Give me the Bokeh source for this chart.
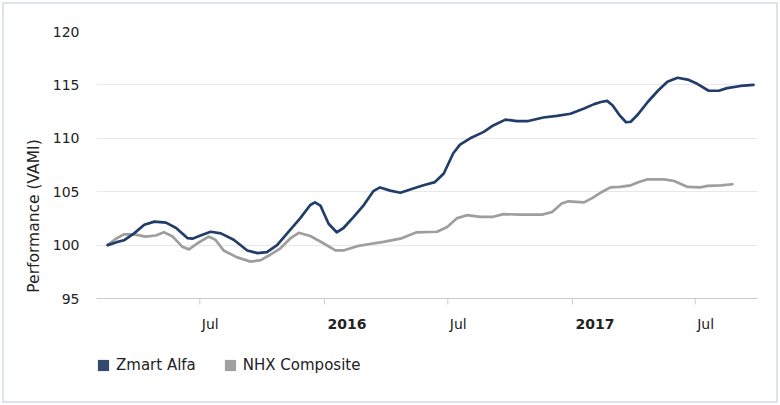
import math
from datetime import datetime
from bokeh.plotting import figure
from bokeh.models import Range1d, FixedTicker, Legend, LegendItem, Span
from bokeh.core.properties import value
from bokeh.embed import file_html
from bokeh.resources import INLINE

# ---------------- data ----------------
zmart_dates = ["2015-02-15", "2015-02-27", "2015-03-11", "2015-03-26", "2015-04-10", "2015-04-25",
               "2015-05-12", "2015-05-27", "2015-06-13", "2015-06-20", "2015-07-02", "2015-07-17",
               "2015-08-01", "2015-08-20", "2015-09-09", "2015-09-24", "2015-10-08", "2015-10-23",
               "2015-11-11", "2015-11-26", "2015-12-11", "2015-12-18", "2015-12-26", "2016-01-07",
               "2016-01-19", "2016-01-29", "2016-02-13", "2016-02-28", "2016-03-13", "2016-03-23",
               "2016-04-07", "2016-04-22", "2016-05-11", "2016-05-26", "2016-06-12", "2016-06-25",
               "2016-07-09", "2016-07-19", "2016-08-03", "2016-08-23", "2016-09-06", "2016-09-24",
               "2016-10-11", "2016-10-26", "2016-11-19", "2016-12-09", "2016-12-29", "2017-01-18",
               "2017-02-02", "2017-02-12", "2017-02-21", "2017-03-01", "2017-03-11", "2017-03-21",
               "2017-03-28", "2017-04-07", "2017-04-22", "2017-05-07", "2017-05-21", "2017-06-05",
               "2017-06-20", "2017-07-04", "2017-07-21", "2017-08-05", "2017-08-17", "2017-09-06",
               "2017-09-25"]
zmart_values = [100.0, 100.25, 100.45, 101.1, 101.9, 102.2,
                102.1, 101.6, 100.65, 100.6, 100.9, 101.25,
                101.1, 100.5, 99.5, 99.25, 99.35, 100.0,
                101.4, 102.5, 103.75, 104.0, 103.7, 102.0,
                101.2, 101.6, 102.65, 103.75, 105.05, 105.4,
                105.1, 104.9, 105.3, 105.6, 105.9, 106.7,
                108.6, 109.4, 110.0, 110.6, 111.2, 111.75,
                111.6, 111.6, 111.95, 112.1, 112.3, 112.8,
                113.2, 113.4, 113.5, 113.1, 112.2, 111.5,
                111.55, 112.2, 113.4, 114.45, 115.3, 115.67,
                115.5, 115.1, 114.45, 114.45, 114.7, 114.9,
                115.0]

nhx_dates = ["2015-02-15", "2015-02-27", "2015-03-11", "2015-03-26", "2015-04-12", "2015-04-27",
             "2015-05-09", "2015-05-22", "2015-06-05", "2015-06-15", "2015-06-27", "2015-07-14",
             "2015-07-24", "2015-08-05", "2015-08-25", "2015-09-14", "2015-09-29", "2015-10-13",
             "2015-10-28", "2015-11-11", "2015-11-24", "2015-12-11", "2015-12-31", "2016-01-17",
             "2016-01-29", "2016-02-18", "2016-03-08", "2016-03-28", "2016-04-22", "2016-05-16",
             "2016-06-15", "2016-06-30", "2016-07-14", "2016-07-29", "2016-08-18", "2016-09-06",
             "2016-09-21", "2016-10-16", "2016-11-17", "2016-12-02", "2016-12-16", "2016-12-26",
             "2017-01-18", "2017-01-30", "2017-02-14", "2017-02-26", "2017-03-12", "2017-03-28",
             "2017-04-09", "2017-04-21", "2017-05-16", "2017-05-31", "2017-06-20", "2017-07-09",
             "2017-07-19", "2017-08-08", "2017-08-25"]
nhx_values = [100.0, 100.6, 101.0, 101.0, 100.8, 100.9,
              101.2, 100.8, 99.85, 99.6, 100.15, 100.8,
              100.5, 99.5, 98.85, 98.45, 98.6, 99.1,
              99.7, 100.6, 101.15, 100.85, 100.15, 99.5,
              99.5, 99.9, 100.1, 100.3, 100.6, 101.2,
              101.25, 101.7, 102.5, 102.8, 102.65, 102.65,
              102.9, 102.85, 102.85, 103.1, 103.9, 104.1,
              104.0, 104.4, 105.0, 105.4, 105.45, 105.6,
              105.9, 106.15, 106.15, 106.0, 105.45, 105.4,
              105.55, 105.6, 105.7]

series_names = ["Zmart Alfa", "NHX Composite"]
y_ticks = [95, 100, 105, 110, 115, 120]
year_tick_dates = ["2016-01-01", "2017-01-01"]
year_tick_labels = ["2016", "2017"]
month_tick_dates = ["2015-07-01", "2016-07-01", "2017-07-01"]
month_tick_labels = ["Jul", "Jul", "Jul"]

# ---------------- layout / styling ----------------
FONT = "DejaVu Sans"
BLUE = "#223d6a"
GREY = "#9e9e9e"
TEXT = "#222222"
AXIS = "#c6ccd4"

W, H = 780, 405
FRAME_LEFT, FRAME_RIGHT, FRAME_TOP, BOTTOM_PAD = 96, 757, 31, 5
AXIS_PX = 298                      # pixel row of the value axis minimum
frame_h = H - FRAME_TOP - BOTTOM_PAD
y_min, y_max = y_ticks[0], y_ticks[-1]
ppu = (AXIS_PX - FRAME_TOP) / (y_max - y_min)          # pixels per unit
y_start = y_min - (FRAME_TOP + frame_h - AXIS_PX) / ppu


def to_dt(s):
    return datetime.strptime(s, "%Y-%m-%d")


p = figure(width=W, height=H, x_axis_type="datetime",
           output_backend="svg", toolbar_location=None,
           min_border_left=FRAME_LEFT, min_border_right=W - FRAME_RIGHT,
           min_border_top=FRAME_TOP, min_border_bottom=BOTTOM_PAD)
p.x_range = Range1d(datetime(2015, 1, 29, 12), datetime(2017, 10, 1))
p.y_range = Range1d(y_start, y_max)
p.outline_line_color = None
p.background_fill_color = "white"
p.border_fill_color = None
p.styles = {"outline": "2px solid #dde3ea", "outline-offset": "-4px",
            "background-color": "white"}

# grid
p.xgrid.grid_line_color = None
p.ygrid.grid_line_color = "#e8e8e8"
p.ygrid.grid_line_width = 1
p.ygrid.ticker = FixedTicker(ticks=y_ticks)

# y axis
p.yaxis.ticker = FixedTicker(ticks=y_ticks)
p.yaxis.axis_line_color = None
p.yaxis.major_tick_line_color = None
p.yaxis.minor_tick_line_color = None
p.yaxis.major_tick_out = 0
p.yaxis.major_tick_in = 0
p.yaxis.major_label_standoff = 17
p.yaxis.major_label_text_font = FONT
p.yaxis.major_label_text_font_size = "14px"
p.yaxis.major_label_text_color = TEXT
p.yaxis.axis_label = "Performance (VAMI)"
p.yaxis.axis_label_text_font = FONT
p.yaxis.axis_label_text_font_size = "15.5px"
p.yaxis.axis_label_text_font_style = "normal"
p.yaxis.axis_label_text_color = TEXT
p.yaxis.axis_label_standoff = 7

# x axis drawn inside the frame: base line, tick marks, left-aligned labels
p.xaxis.visible = False
p.add_layout(Span(location=y_min, dimension="width", line_color=AXIS, line_width=1))
all_ticks = [to_dt(d) for d in year_tick_dates + month_tick_dates]
p.segment(x0=all_ticks, y0=[y_min] * len(all_ticks),
          x1=all_ticks, y1=[y_min - 6 / ppu] * len(all_ticks),
          line_color=AXIS, line_width=1)
lab_y = y_min - 25 / ppu
p.text(x=[to_dt(d) for d in year_tick_dates], y=[lab_y] * len(year_tick_dates),
       text=year_tick_labels, x_offset=3, text_align="left",
       text_baseline="alphabetic", text_font=value(FONT), text_font_size="14px",
       text_font_style="bold", text_color=TEXT)
p.text(x=[to_dt(d) for d in month_tick_dates], y=[lab_y] * len(month_tick_dates),
       text=month_tick_labels, x_offset=2, text_align="left",
       text_baseline="alphabetic", text_font=value(FONT), text_font_size="14px",
       text_font_style="normal", text_color=TEXT)

# lines
r2 = p.line([to_dt(d) for d in nhx_dates], nhx_values, line_color=GREY,
            line_width=2.7, line_join="round", line_cap="round")
r1 = p.line([to_dt(d) for d in zmart_dates], zmart_values, line_color=BLUE,
            line_width=2.7, line_join="round", line_cap="round")

# legend with square swatches (area glyphs fill the whole swatch box)
s1 = p.rect(x=[math.nan], y=[math.nan], width=1, height=1,
            fill_color="#34496e", line_color=None)
s2 = p.rect(x=[math.nan], y=[math.nan], width=1, height=1,
            fill_color="#a0a0a0", line_color=None)
legend = Legend(items=[LegendItem(label=series_names[0], renderers=[s1]),
                       LegendItem(label=series_names[1], renderers=[s2])],
                location=(0, 26), orientation="horizontal",
                glyph_width=14, glyph_height=14, label_height=14,
                label_standoff=6, spacing=27, padding=0, margin=0,
                label_text_font=FONT, label_text_font_size="15px",
                label_text_color=TEXT, label_text_baseline="middle",
                background_fill_alpha=0, border_line_color=None)
p.add_layout(legend, "center")

open("out.html", "w").write(file_html(p, INLINE))
